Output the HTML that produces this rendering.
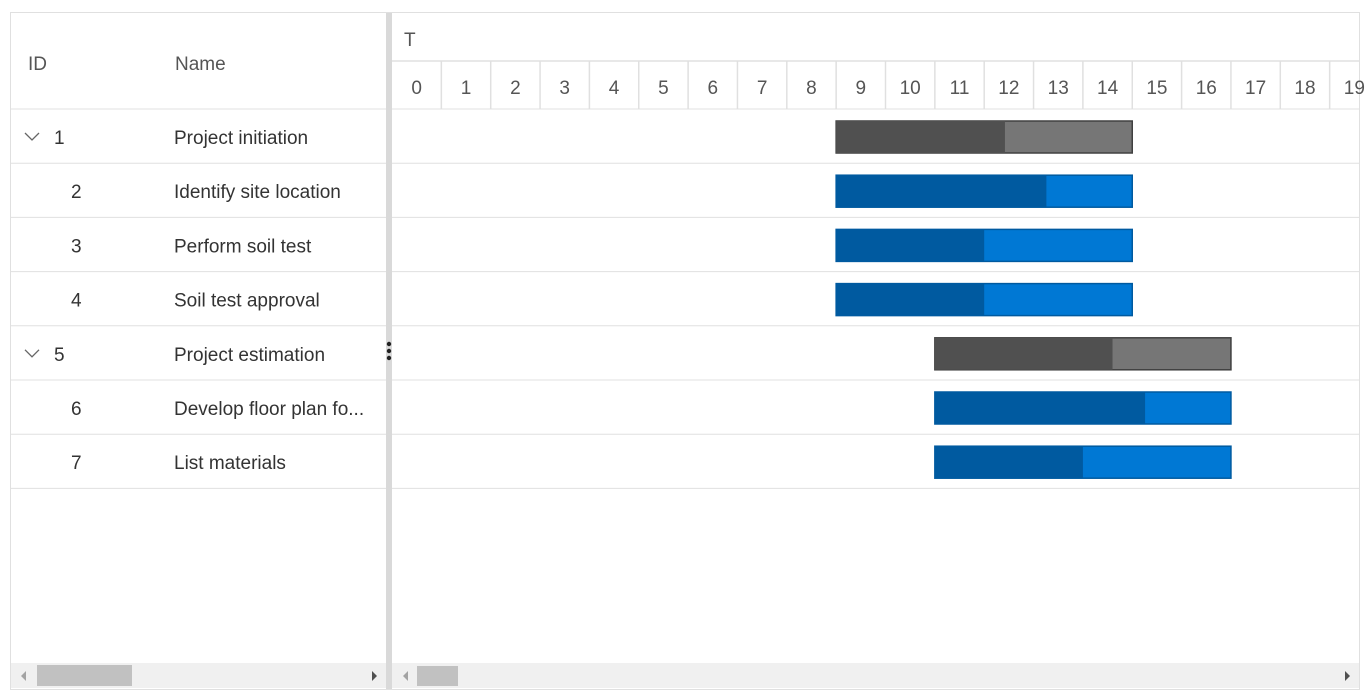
<!DOCTYPE html>
<html><head><meta charset="utf-8"><style>
body{margin:0;background:#fff;font-family:"Liberation Sans",sans-serif;}
#root{position:absolute;left:0;top:0;width:1372px;height:699px;overflow:hidden}
.abs{position:absolute}
</style></head><body><div id="root">
<div class="abs" style="left:10px;top:12px;width:1348px;height:676px;border:1px solid #e0e0e0"></div>
<svg id="svg" class="abs" style="left:0;top:0" width="1372" height="699"></svg>
</div>
<script>
const ids=[1,2,3,4,5,6,7];
const names=["Project initiation","Identify site location","Perform soil test","Soil test approval","Project estimation","Develop floor plan fo...","List materials"];
const parents=[true,false,false,false,true,false,false];
const starts=[9,9,9,9,11,11,11];
const durations=[6,6,6,6,6,6,6];
const progress=[57,71,50,50,60,71,50];
const ticks=[0,1,2,3,4,5,6,7,8,9,10,11,12,13,14,15,16,17,18,19];
const ns="http://www.w3.org/2000/svg";
const svg=document.getElementById('svg');
const X0=392,CW=49.35,ROW0=109,RH=54.2;
const xs=v=>X0+v*CW;
const ys=i=>ROW0+i*RH;
function mk(t,a,p){const e=document.createElementNS(ns,t);for(const k in a)e.setAttribute(k,a[k]);(p||svg).appendChild(e);return e;}
function txt(x,y,s,o){const e=mk('text',Object.assign({x:x,y:y,'font-size':19,fill:'#333','font-family':'Liberation Sans, sans-serif'},o||{}));e.textContent=s;return e;}
let h=txt(28,70,'ID',{fill:'#555'});


h=txt(175,70,'Name',{fill:'#555'});


let l=mk('line',{x1:11,x2:1359,y1:109,y2:109,stroke:'#e0e0e0','stroke-width':1});


l=mk('line',{x1:392,x2:1359,y1:61,y2:61,stroke:'#e0e0e0','stroke-width':1.5});


h=txt(404,46,'T',{fill:'#555'});


ticks.forEach(t=>{
  const c=mk('line',{x1:xs(t+1),x2:xs(t+1),y1:61,y2:109,stroke:'#e0e0e0','stroke-width':1.5});
  
  
  const e=txt(xs(t)+CW/2,94,String(t),{'text-anchor':'middle',fill:'#555'});
  
  
});
ids.forEach((id,i)=>{
  const y=ys(i);
  const r=mk('line',{x1:11,x2:386,y1:y+RH,y2:y+RH,stroke:'#e0e0e0'});
  
  
  const r2=mk('line',{x1:392,x2:1359,y1:y+RH,y2:y+RH,stroke:'#e0e0e0'});
  
  
  if(parents[i]){
    const ic=mk('path',{d:`M25 ${y+24} l7 7 l7 -7`,fill:'none',stroke:'#666','stroke-width':1.3});
    
    
  }
  const a=txt(parents[i]?54:71,y+35,String(id));
  
  
  const b=txt(174,y+35,names[i]);
  
  
  const bx=xs(starts[i]),bw=durations[i]*CW,by=y+12,bh=32;
  const dark=parents[i]?'#505050':'#005aa0', light=parents[i]?'#767676':'#0078d4', bd=parents[i]?'#404040':'#005aa0';
  const bar=mk('rect',{x:bx,y:by,width:bw,height:bh,fill:light,stroke:bd,'stroke-width':1.5});
  
  
  const pr=mk('rect',{x:bx,y:by,width:bw*progress[i]/100,height:bh,fill:dark});
  
  
});
let s=mk('rect',{x:386,y:13,width:6,height:676,fill:'#d9d9d9'});


[344,351,358].forEach(yy=>{const d=mk('circle',{cx:389,cy:yy,r:2.2,fill:'#222'});

});
let sb=mk('rect',{x:11,y:663,width:375,height:25,fill:'#f0f0f0'});


sb=mk('rect',{x:392,y:663,width:967,height:25,fill:'#f0f0f0'});


let th=mk('rect',{x:37,y:665,width:95,height:21,fill:'#c1c1c1'});


th=mk('rect',{x:417,y:666,width:41,height:20,fill:'#c1c1c1'});


[[`M26 671 l-5 5 l5 5z`,'#a3a3a3','grid-scroll-left'],[`M372 671 l5 5 l-5 5z`,'#505050','grid-scroll-right'],[`M408 671 l-5 5 l5 5z`,'#a3a3a3','chart-scroll-left'],[`M1345 671 l5 5 l-5 5z`,'#505050','chart-scroll-right']].forEach(p=>{
  const e=mk('path',{d:p[0],fill:p[1]});
  
  
});
</script></body></html>
